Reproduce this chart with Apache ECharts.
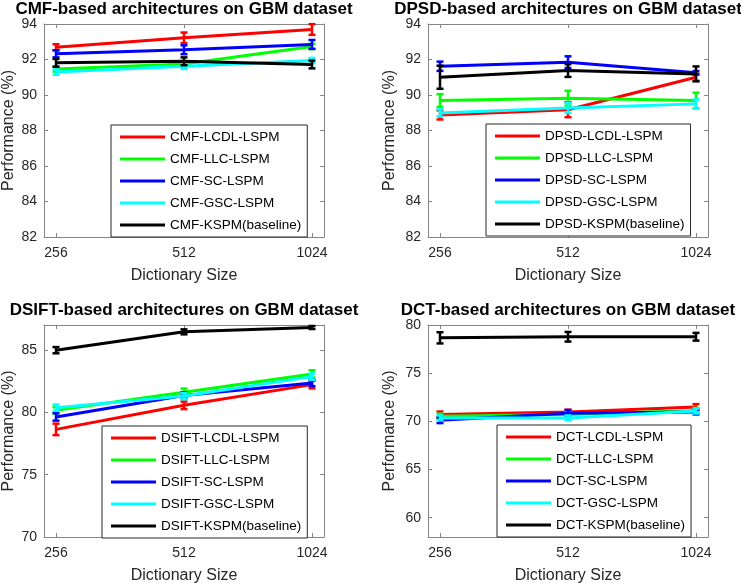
<!DOCTYPE html>
<html><head><meta charset="utf-8">
<script src="https://cdn.jsdelivr.net/npm/echarts@6/dist/echarts.min.js"></script>
<style>html,body{margin:0;padding:0;background:#fff}#c{width:741px;height:587px}</style>
</head><body><div id="c"></div><script>
// ---------- DATA ----------
const dictSizes = [256, 512, 1024];
const methodNames = ['LCDL-LSPM', 'LLC-LSPM', 'SC-LSPM', 'GSC-LSPM', 'KSPM(baseline)'];
const panelPrefixes = ['CMF', 'DPSD', 'DSIFT', 'DCT'];
const panelTitles = ['CMF-based architectures on GBM dataset', 'DPSD-based architectures on GBM dataset',
  'DSIFT-based architectures on GBM dataset', 'DCT-based architectures on GBM dataset'];
const xLabel = 'Dictionary Size';
const yLabel = 'Performance (%)';

// CMF
const cmfLcdl = [92.69, 93.22, 93.69];   const cmfLcdlErr = [0.17, 0.30, 0.30];
const cmfLlc  = [91.47, 91.75, 92.73];   const cmfLlcErr  = [0.15, 0.15, 0.15];
const cmfSc   = [92.32, 92.55, 92.85];   const cmfScErr   = [0.20, 0.25, 0.25];
const cmfGsc  = [91.29, 91.62, 91.94];   const cmfGscErr  = [0.15, 0.15, 0.15];
const cmfKspm = [91.81, 91.90, 91.72];   const cmfKspmErr = [0.22, 0.22, 0.22];
// DPSD
const dpsdLcdl = [88.88, 89.17, 91.00];  const dpsdLcdlErr = [0.26, 0.42, 0.20];
const dpsdLlc  = [89.69, 89.82, 89.69];  const dpsdLlcErr  = [0.36, 0.42, 0.44];
const dpsdSc   = [91.62, 91.85, 91.25];  const dpsdScErr   = [0.26, 0.33, 0.10];
const dpsdGsc  = [88.99, 89.27, 89.50];  const dpsdGscErr  = [0.20, 0.28, 0.25];
const dpsdKspm = [91.00, 91.38, 91.19];  const dpsdKspmErr = [0.65, 0.36, 0.42];
// DSIFT
const dsiftLcdl = [78.63, 80.56, 82.22]; const dsiftLcdlErr = [0.46, 0.30, 0.30];
const dsiftLlc  = [80.16, 81.60, 83.07]; const dsiftLlcErr  = [0.25, 0.30, 0.30];
const dsiftSc   = [79.63, 81.35, 82.35]; const dsiftScErr   = [0.30, 0.25, 0.25];
const dsiftGsc  = [80.37, 81.30, 82.86]; const dsiftGscErr  = [0.25, 0.25, 0.25];
const dsiftKspm = [84.98, 86.45, 86.80]; const dsiftKspmErr = [0.25, 0.20, 0.12];
// DCT
const dctLcdl = [70.72, 70.96, 71.49];   const dctLcdlErr = [0.30, 0.25, 0.30];
const dctLlc  = [70.54, 70.72, 71.14];   const dctLlcErr  = [0.25, 0.25, 0.25];
const dctSc   = [70.12, 70.83, 70.97];   const dctScErr   = [0.30, 0.35, 0.25];
const dctGsc  = [70.36, 70.36, 71.07];   const dctGscErr  = [0.25, 0.25, 0.25];
const dctKspm = [78.67, 78.78, 78.78];   const dctKspmErr = [0.58, 0.50, 0.40];

// y ticks
const yTicksCmf = [82, 84, 86, 88, 90, 92, 94];
const yTicksDpsd = [82, 84, 86, 88, 90, 92, 94];
const yTicksDsift = [70, 75, 80, 85];
const yTicksDct = [60, 65, 70, 75, 80];

const panelMeans = [
  [cmfLcdl, cmfLlc, cmfSc, cmfGsc, cmfKspm],
  [dpsdLcdl, dpsdLlc, dpsdSc, dpsdGsc, dpsdKspm],
  [dsiftLcdl, dsiftLlc, dsiftSc, dsiftGsc, dsiftKspm],
  [dctLcdl, dctLlc, dctSc, dctGsc, dctKspm]
];
const panelErrs = [
  [cmfLcdlErr, cmfLlcErr, cmfScErr, cmfGscErr, cmfKspmErr],
  [dpsdLcdlErr, dpsdLlcErr, dpsdScErr, dpsdGscErr, dpsdKspmErr],
  [dsiftLcdlErr, dsiftLlcErr, dsiftScErr, dsiftGscErr, dsiftKspmErr],
  [dctLcdlErr, dctLlcErr, dctScErr, dctGscErr, dctKspmErr]
];
const panelYTicks = [yTicksCmf, yTicksDpsd, yTicksDsift, yTicksDct];

// ---------- STYLE / LAYOUT ----------
const colors = ['#ff0000', '#00ff00', '#0000ff', '#00ffff', '#000000'];
const FONT = '"Liberation Sans", Arial, Helvetica, sans-serif';
const axisColor = '#858585';
const textColor = '#262626';
const layouts = [
  {left: 44, top: 24, width: 280, height: 213, ymin: 82, ymax: 94, yNameGap: 27, legend: {left: 111, top: 125}},
  {left: 428, top: 24, width: 280, height: 213, ymin: 82, ymax: 94, yNameGap: 30, legend: {left: 486, top: 124}},
  {left: 44, top: 325, width: 280, height: 212, ymin: 70, ymax: 87, yNameGap: 27, legend: {left: 102, top: 426}},
  {left: 428, top: 325, width: 280, height: 212, ymin: 58, ymax: 80, yNameGap: 30, legend: {left: 497, top: 425}}
];
const xTickVals = dictSizes.map(d => Math.log2(d));
const xPad = 0.09375;
const xMin = Math.log2(dictSizes[0]) - xPad;
const xMax = Math.log2(dictSizes[dictSizes.length - 1]) + xPad;

const grids = [], xAxes = [], yAxes = [], series = [], legends = [], graphics = [];

layouts.forEach((L, p) => {
  grids.push({left: L.left, top: L.top, width: L.width, height: L.height, containLabel: false});
  const baseX = {
    type: 'value', gridIndex: p, min: xMin, max: xMax,
    axisLine: {show: true, onZero: false, lineStyle: {color: axisColor, width: 1}},
    splitLine: {show: false},
    axisTick: {show: true, inside: true, length: 4, customValues: xTickVals, lineStyle: {color: axisColor}}
  };
  xAxes.push(Object.assign({}, baseX, {
    position: 'bottom',
    name: xLabel, nameLocation: 'middle', nameGap: 31,
    nameTextStyle: {fontFamily: FONT, fontSize: 16, color: textColor},
    axisLabel: {show: true, customValues: xTickVals, margin: 9, fontFamily: FONT, fontSize: 14, color: textColor,
      formatter: v => String(Math.round(Math.pow(2, v)))}
  }));
  xAxes.push(Object.assign({}, baseX, {position: 'top', axisLabel: {show: false}}));
  const baseY = {
    type: 'value', gridIndex: p, min: L.ymin, max: L.ymax,
    axisLine: {show: true, onZero: false, lineStyle: {color: axisColor, width: 1}},
    splitLine: {show: false},
    axisTick: {show: true, inside: true, length: 4, customValues: panelYTicks[p], lineStyle: {color: axisColor}}
  };
  yAxes.push(Object.assign({}, baseY, {
    position: 'left',
    name: yLabel, nameLocation: 'middle', nameGap: L.yNameGap, nameRotate: 90,
    nameTextStyle: {fontFamily: FONT, fontSize: 16, color: textColor},
    axisLabel: {show: true, customValues: panelYTicks[p], margin: 7, fontFamily: FONT, fontSize: 14, color: textColor}
  }));
  yAxes.push(Object.assign({}, baseY, {position: 'right', axisLabel: {show: false}}));

  const legendNames = [];
  methodNames.forEach((m, k) => {
    const name = panelPrefixes[p] + '-' + m;
    legendNames.push(name);
    const means = panelMeans[p][k];
    const errs = panelErrs[p][k];
    series.push({
      type: 'line', name: name, xAxisIndex: 2 * p, yAxisIndex: 2 * p,
      data: dictSizes.map((d, i) => [Math.log2(d), means[i]]),
      symbol: 'none', color: colors[k], lineStyle: {color: colors[k], width: 3},
      z: 2 + k, animation: false, silent: true
    });
    series.push({
      type: 'custom', name: name + ' err', xAxisIndex: 2 * p, yAxisIndex: 2 * p,
      data: dictSizes.map((d, i) => [Math.log2(d), means[i] - errs[i], means[i] + errs[i]]),
      encode: {x: 0, y: [1, 2]}, z: 2 + k, animation: false, silent: true,
      renderItem: (params, api) => {
        const x = api.value(0);
        const a = api.coord([x, api.value(1)]);
        const b = api.coord([x, api.value(2)]);
        const hw = 3.5;
        const st = {stroke: colors[k], lineWidth: 2.5};
        return {type: 'group', children: [
          {type: 'line', shape: {x1: a[0], y1: a[1], x2: b[0], y2: b[1]}, style: st},
          {type: 'line', shape: {x1: a[0] - hw, y1: a[1], x2: a[0] + hw, y2: a[1]}, style: st},
          {type: 'line', shape: {x1: b[0] - hw, y1: b[1], x2: b[0] + hw, y2: b[1]}, style: st}
        ]};
      }
    });
  });
  legends.push({
    data: legendNames, left: L.legend.left, top: L.legend.top, orient: 'vertical',
    icon: 'rect', itemWidth: 45, itemHeight: 3, itemGap: 8,
    padding: [5, 6, 5, 9], backgroundColor: '#ffffff', borderColor: '#262626', borderWidth: 1, borderRadius: 0,
    textStyle: {fontFamily: FONT, fontSize: 13.5, color: '#000', lineHeight: 14},
    selectedMode: false
  });
  graphics.push({
    type: 'text', x: L.left + L.width / 2, y: L.top - 15,
    style: {text: panelTitles[p], fontFamily: FONT, fontWeight: 'bold', fontSize: 17, fill: '#000',
      textAlign: 'center', textVerticalAlign: 'middle'}
  });
});

const chart = echarts.init(document.getElementById('c'), null, {renderer: 'canvas'});
chart.setOption({
  animation: false,
  backgroundColor: '#ffffff',
  grid: grids, xAxis: xAxes, yAxis: yAxes, series: series, legend: legends,
  graphic: graphics
});
</script></body></html>
